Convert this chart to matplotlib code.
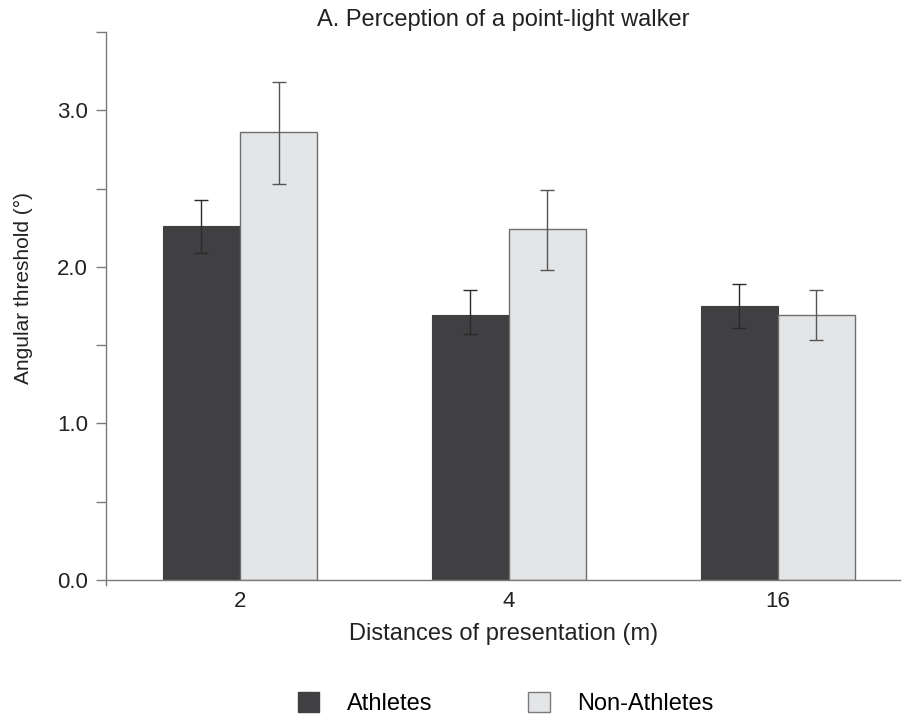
import numpy as np
import matplotlib
matplotlib.use("Agg")
import matplotlib.pyplot as plt
from matplotlib.ticker import MultipleLocator
from matplotlib.patches import Patch

plt.rcParams['font.family'] = ['Liberation Sans', 'DejaVu Sans']

distances = ["2", "4", "16"]
groups = ["Athletes", "Non-Athletes"]

athletes = [2.26, 1.69, 1.75]
athletes_hi = [2.43, 1.85, 1.89]
athletes_lo = [2.09, 1.57, 1.61]

non_athletes = [2.86, 2.24, 1.69]
non_hi = [3.18, 2.49, 1.85]
non_lo = [2.53, 1.98, 1.53]

dark = '#404042'
light = '#e4e5e7'
grey = '#7a7a7a'
txt = '#222222'

fig = plt.figure(figsize=(9.02, 7.21), dpi=100)
ax = fig.add_axes([0.1175, 0.1956, 0.8805, 0.76])

x = np.arange(len(distances))
w = 0.287

a = np.array(athletes)
n = np.array(non_athletes)
a_err = [a - np.array(athletes_lo), np.array(athletes_hi) - a]
n_err = [n - np.array(non_lo), np.array(non_hi) - n]

ax.bar(x - w / 2, a, w, color=dark, edgecolor=dark, linewidth=0.8, zorder=2)
ax.bar(x + w / 2, n, w, color=light, edgecolor='#6e6e6e', linewidth=1.0, zorder=2)
ax.errorbar(x - w / 2, a, yerr=a_err, fmt='none', ecolor='#2a2a2a',
            elinewidth=1.0, capsize=5, capthick=1.0, zorder=3)
ax.errorbar(x + w / 2, n, yerr=n_err, fmt='none', ecolor='#555555',
            elinewidth=1.0, capsize=5, capthick=1.0, zorder=3)

ax.set_xlim(-0.498, 2.455)
ax.set_ylim(0, 3.5)
ax.yaxis.set_minor_locator(MultipleLocator(0.5))
ax.set_yticks([0, 1, 2, 3])
ax.set_yticklabels(["0.0", "1.0", "2.0", "3.0"])
ax.set_xticks(x)
ax.set_xticklabels(distances)

for s in ['top', 'right']:
    ax.spines[s].set_visible(False)
for s in ['left', 'bottom']:
    ax.spines[s].set_color(grey)
    ax.spines[s].set_linewidth(1.0)
ax.spines['left'].set_bounds(-0.035, 3.5)

ax.tick_params(axis='y', which='both', direction='out', length=7, width=1.0,
               color=grey, labelsize=16, pad=6, labelcolor=txt)
ax.tick_params(axis='x', length=0, labelsize=16, pad=8, labelcolor=txt)

ax.set_ylabel("Angular threshold (°)", fontsize=15, color=txt)
ax.yaxis.set_label_coords(-0.092, 0.533)
ax.set_xlabel("Distances of presentation (m)", fontsize=17, color=txt, labelpad=8)
ax.set_title("A. Perception of a point-light walker", fontsize=17, color=txt, pad=4)

handles = [Patch(facecolor=dark, edgecolor=dark),
           Patch(facecolor=light, edgecolor='#7a7a7a')]
fig.legend(handles, groups, loc='center', bbox_to_anchor=(0.5604, 0.024),
           ncol=2, frameon=False, fontsize=17, handlelength=0.93,
           handleheight=0.93, handletextpad=1.15, columnspacing=4.06)

fig.savefig("out.png", dpi=100)
